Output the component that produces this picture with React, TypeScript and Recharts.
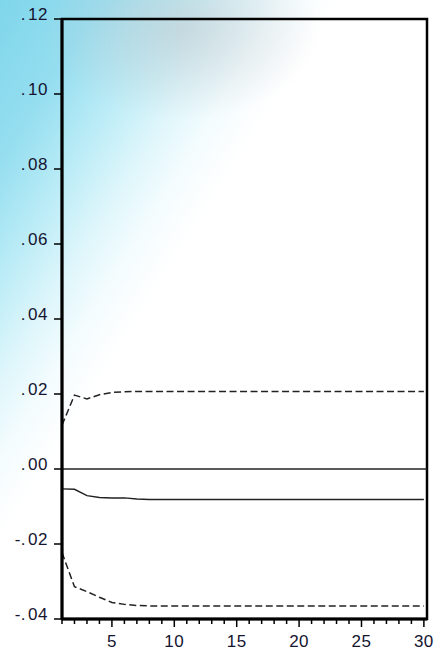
import React from "react";
import {
  LineChart,
  Line,
  XAxis,
  YAxis,
  ReferenceLine,
  ReferenceArea,
} from "recharts";

const periods = [
  1, 2, 3, 4, 5, 6, 7, 8, 9, 10, 11, 12, 13, 14, 15, 16, 17, 18, 19, 20, 21,
  22, 23, 24, 25, 26, 27, 28, 29, 30,
];

const response = [
  -0.0053, -0.0054, -0.0071, -0.0076, -0.0077, -0.0077, -0.008, -0.0081,
  -0.0081, -0.0081, -0.0081, -0.0081, -0.0081, -0.0081, -0.0081, -0.0081,
  -0.0081, -0.0081, -0.0081, -0.0081, -0.0081, -0.0081, -0.0081, -0.0081,
  -0.0081, -0.0081, -0.0081, -0.0081, -0.0081, -0.0081,
];

const upperBand = [
  0.0117, 0.0197, 0.0187, 0.0198, 0.0204, 0.0206, 0.0207, 0.0207, 0.0207,
  0.0207, 0.0207, 0.0207, 0.0207, 0.0207, 0.0207, 0.0207, 0.0207, 0.0207,
  0.0207, 0.0207, 0.0207, 0.0207, 0.0207, 0.0207, 0.0207, 0.0207, 0.0207,
  0.0207, 0.0207, 0.0207,
];

const lowerBand = [
  -0.0223, -0.0314, -0.0327, -0.0342, -0.0356, -0.0361, -0.0364, -0.0365,
  -0.0365, -0.0365, -0.0365, -0.0365, -0.0365, -0.0365, -0.0365, -0.0365,
  -0.0365, -0.0365, -0.0365, -0.0365, -0.0365, -0.0365, -0.0365, -0.0365,
  -0.0365, -0.0365, -0.0365, -0.0365, -0.0365, -0.0365,
];

const yTicks = [-0.04, -0.02, 0, 0.02, 0.04, 0.06, 0.08, 0.1, 0.12];
const xLabelTicks = [5, 10, 15, 20, 25, 30];

const data = periods.map((p, i) => ({
  period: p,
  response: response[i],
  upper: upperBand[i],
  lower: lowerBand[i],
}));

const FONT = "'Liberation Sans', Arial, sans-serif";
const TEXT_COLOR = "#151530";

const splitY = (v: number) => {
  const s = Math.abs(v).toFixed(2).replace(/^0/, "");
  return { head: (v < 0 ? "-" : "") + ".", digits: s.slice(1) };
};

const YTick = (props: any) => {
  const { x, y, payload } = props;
  const { head, digits } = splitY(payload.value);
  return (
    <text
      x={x}
      y={y + 1}
      textAnchor="end"
      fontFamily={FONT}
      fontSize={17}
      letterSpacing={0.5}
      fill={TEXT_COLOR}
    >
      <tspan>{head}</tspan>
      <tspan dx={2}>{digits}</tspan>
    </text>
  );
};

const XTick = (props: any) => {
  const { x, y, payload } = props;
  const major = xLabelTicks.includes(payload.value);
  return (
    <g>
      <line
        x1={x}
        x2={x}
        y1={y}
        y2={y + (major ? 8 : 5)}
        stroke="#000"
        strokeWidth={1.5}
      />
      {major && (
        <text
          x={x}
          y={y + 28}
          textAnchor="middle"
          fontFamily={FONT}
          fontSize={17}
          letterSpacing={0.5}
          fill={TEXT_COLOR}
        >
          {payload.value}
        </text>
      )}
    </g>
  );
};

export default function App() {
  return (
    <div
      style={{
        position: "absolute",
        left: 0,
        top: 0,
        width: 437,
        height: 654,
        background:
          "radial-gradient(ellipse 140px 90px at 180px 30px, rgba(192,198,203,0.55), rgba(200,205,210,0) 100%), linear-gradient(122deg, #7fd6ea 0%, #95def0 12%, #b8ebf6 20%, #def6fb 28%, #f4fcfe 34%, #ffffff 40%)",
      }}
    >
      <LineChart
        width={437}
        height={654}
        data={data}
        margin={{ top: 19, right: 10, bottom: 0, left: 0 }}
      >
        <XAxis
          dataKey="period"
          type="number"
          domain={[1, 30.25]}
          ticks={periods}
          interval={0}
          height={35}
          tickLine={false}
          tickSize={0}
          tickMargin={0}
          tick={<XTick />}
          axisLine={{ stroke: "#000", strokeWidth: 3 }}
        />
        <YAxis
          type="number"
          domain={[-0.04, 0.12]}
          ticks={yTicks}
          interval={0}
          width={62}
          tickSize={8}
          tickMargin={6}
          tickLine={{ stroke: "#000", strokeWidth: 1.5 }}
          tick={<YTick />}
          axisLine={{ stroke: "#000", strokeWidth: 3 }}
        />
        <ReferenceArea
          x1={1}
          x2={30.25}
          y1={-0.04}
          y2={0.12}
          stroke="#000"
          strokeWidth={2.5}
          fill="none"
          fillOpacity={0}
          ifOverflow="visible"
        />
        <ReferenceLine y={0} stroke="#222" strokeWidth={1.5} />
        <Line
          type="linear"
          dataKey="upper"
          stroke="#222"
          strokeWidth={1.5}
          strokeDasharray="7 3.5"
          dot={false}
          isAnimationActive={false}
        />
        <Line
          type="linear"
          dataKey="lower"
          stroke="#222"
          strokeWidth={1.5}
          strokeDasharray="7 3.5"
          dot={false}
          isAnimationActive={false}
        />
        <Line
          type="linear"
          dataKey="response"
          stroke="#222"
          strokeWidth={1.5}
          dot={false}
          isAnimationActive={false}
        />
      </LineChart>
    </div>
  );
}
